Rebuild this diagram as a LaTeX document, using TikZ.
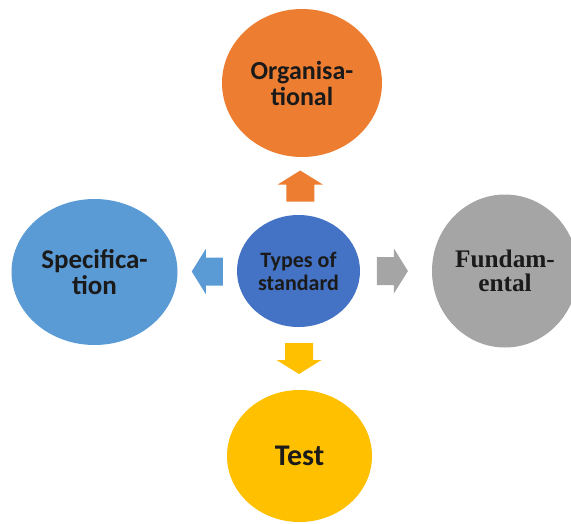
\documentclass[tikz,border=0pt]{standalone}
\usepackage{fontspec}
\setmainfont{Carlito}
\newfontfamily\serifbf{Liberation Serif}
\definecolor{stdorange}{HTML}{ED7D31}
\definecolor{stdblue}{HTML}{4472C4}
\definecolor{stdlight}{HTML}{5B9BD5}
\definecolor{stdgray}{HTML}{A5A5A5}
\definecolor{stdyellow}{HTML}{FFC000}
\definecolor{stdtext}{HTML}{1A1A1A}
\usetikzlibrary{shapes.geometric,calc}

\begin{document}
\begin{tikzpicture}[x=1pt, y=-1pt,
    bubble/.style={ellipse, inner sep=0pt, align=center, text=stdtext,
                   font=\bfseries\fontsize{26}{26}\selectfont},
    blockarr/.pic={\path[pic actions] (-15.5,-14) -- (1.5,-14) -- (1.5,-22.5)
                   -- (15.5,0) -- (1.5,22.5) -- (1.5,14) -- (-15.5,14) -- cycle;}
  ]
    \useasboundingbox (0,0) rectangle (571,523);
    \clip (0,0) rectangle (571,523);

    % Centre node
    \node[bubble, fill=stdblue, minimum width=123pt, minimum height=112pt,
          font=\bfseries\fontsize{22}{23}\selectfont] (types) at (298.5,271)
      {Types of\\standard};

    % Outer nodes
    \node[bubble, fill=stdorange, minimum width=160pt, minimum height=148pt] (org) at (302,83)
      {Organisa-\\tional};
    \node[bubble, fill=stdlight, minimum width=166pt, minimum height=146pt,
          font=\bfseries\fontsize{27}{26}\selectfont] (spec) at (94.5,272)
      {Specifica-\\tion};
    \node[bubble, fill=stdgray, minimum width=146pt, minimum height=153pt,
          font=\serifbf\bfseries\fontsize{25.3}{24}\selectfont] (fund) at (505,271)
      {Fundam-\\ental};
    \node[bubble, fill=stdyellow, minimum width=145pt, minimum height=132pt,
          font=\bfseries\fontsize{30}{30}\selectfont] (test) at (299.5,456)
      {Test};

    % Block arrows
    \pic[rotate=90, fill=stdorange] at ($(types.north)!0.5!(org.south)$) {blockarr};
    \pic[rotate=180, fill=stdlight] at ($(types.west)!0.5!(spec.east)$) {blockarr};
    \pic[fill=stdgray] at ($(types.east)!0.45!(fund.west)$) {blockarr};
    \pic[rotate=-90, fill=stdyellow] at ($(types.south)!0.5!(test.north)$) {blockarr};
  \end{tikzpicture}
\end{document}
